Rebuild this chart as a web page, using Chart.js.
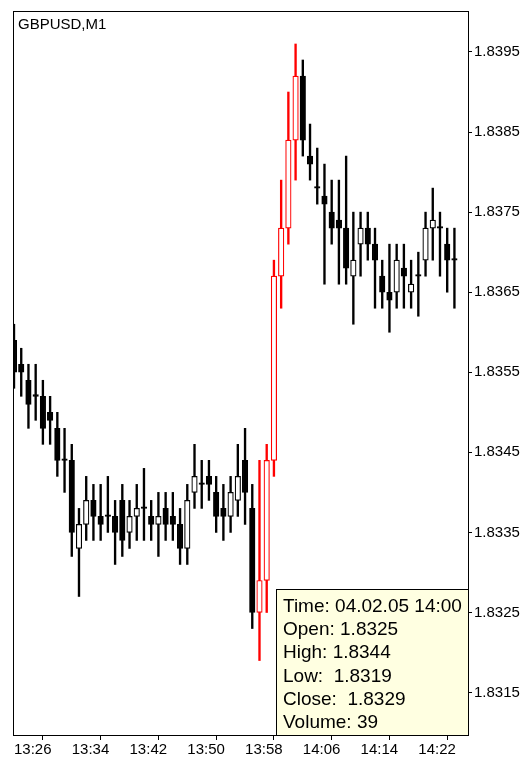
<!DOCTYPE html>
<html>
<head>
<meta charset="utf-8">
<script src="https://cdn.jsdelivr.net/npm/chart.js@4.4.0/dist/chart.umd.min.js"></script>
<style>
    html, body { margin: 0; padding: 0; background: #fff; }
    canvas { display: block; }
</style>
</head>
<body>
<canvas id="chart" width="525" height="760"></canvas>
<script>
// GBPUSD, 1-minute bars
const symbol = 'GBPUSD,M1';

const times = [
    '13:26','13:27','13:28','13:29','13:30','13:31','13:32','13:33','13:34','13:35',
    '13:36','13:37','13:38','13:39','13:40','13:41','13:42','13:43','13:44','13:45',
    '13:46','13:47','13:48','13:49','13:50','13:51','13:52','13:53','13:54','13:55',
    '13:56','13:57','13:58','13:59','14:00','14:01','14:02','14:03','14:04','14:05',
    '14:06','14:07','14:08','14:09','14:10','14:11','14:12','14:13','14:14','14:15',
    '14:16','14:17','14:18','14:19','14:20','14:21','14:22','14:23','14:24','14:25',
    '14:26','14:27'
];

const open = [
    1.8359,1.8356,1.8354,1.8352,1.8352,1.8350,1.8348,1.8344,1.8344,1.8333,
    1.8336,1.8339,1.8337,1.8337,1.8337,1.8339,1.8335,1.8337,1.8338,1.8337,
    1.8336,1.8338,1.8337,1.8336,1.8333,1.8340,1.8341,1.8342,1.8340,1.8338,
    1.8337,1.8339,1.8344,1.8338,1.8325,1.8329,1.8344,1.8367,1.8373,1.8384,
    1.8392,1.8382,1.8378,1.8377,1.8375,1.8374,1.8373,1.8367,1.8371,1.8373,
    1.8371,1.8367,1.8365,1.8365,1.8368,1.8365,1.8367,1.8369,1.8373,1.8373,
    1.8371,1.8369
];
const high = [
    1.8361,1.8358,1.8356,1.8356,1.8354,1.8352,1.8350,1.8348,1.8346,1.8338,
    1.8342,1.8341,1.8341,1.8342,1.8339,1.8341,1.8339,1.8341,1.8343,1.8339,
    1.8340,1.8340,1.8340,1.8338,1.8341,1.8346,1.8344,1.8344,1.8342,1.8341,
    1.8342,1.8346,1.8348,1.8341,1.8344,1.8346,1.8369,1.8379,1.8390,1.8396,
    1.8394,1.8386,1.8383,1.8381,1.8379,1.8379,1.8382,1.8375,1.8375,1.8375,
    1.8373,1.8369,1.8371,1.8371,1.8371,1.8369,1.8370,1.8375,1.8378,1.8375,
    1.8373,1.8373
];
const low = [
    1.8353,1.8352,1.8348,1.8349,1.8346,1.8346,1.8342,1.8340,1.8332,1.8327,
    1.8334,1.8334,1.8334,1.8335,1.8331,1.8332,1.8333,1.8334,1.8334,1.8334,
    1.8332,1.8334,1.8334,1.8331,1.8331,1.8338,1.8338,1.8339,1.8335,1.8334,
    1.8335,1.8337,1.8336,1.8323,1.8319,1.8325,1.8342,1.8363,1.8371,1.8379,
    1.8382,1.8379,1.8376,1.8366,1.8371,1.8366,1.8366,1.8361,1.8367,1.8369,
    1.8363,1.8363,1.8360,1.8363,1.8363,1.8363,1.8362,1.8367,1.8369,1.8367,
    1.8365,1.8363
];
const close = [
    1.8355,1.8355,1.8351,1.8352,1.8348,1.8349,1.8344,1.8344,1.8335,1.8336,
    1.8339,1.8337,1.8336,1.8337,1.8335,1.8334,1.8337,1.8338,1.8338,1.8336,
    1.8337,1.8336,1.8336,1.8333,1.8339,1.8342,1.8341,1.8341,1.8337,1.8337,
    1.8340,1.8342,1.8340,1.8325,1.8329,1.8344,1.8367,1.8373,1.8384,1.8392,
    1.8384,1.8381,1.8378,1.8376,1.8373,1.8373,1.8368,1.8369,1.8373,1.8371,
    1.8369,1.8365,1.8364,1.8369,1.8367,1.8366,1.8367,1.8373,1.8374,1.8373,
    1.8369,1.8369
];

const priceTicks = [1.8315, 1.8325, 1.8335, 1.8345, 1.8355, 1.8365, 1.8375, 1.8385, 1.8395];
const timeTicks = ['13:26', '13:34', '13:42', '13:50', '13:58', '14:06', '14:14', '14:22'];

// bars drawn in red
const redTimes = ['14:00', '14:01', '14:02', '14:03', '14:04', '14:05'];

// data window
const infoTime = '14:00';
const infoDate = '04.02.05';
const infoVolume = 39;

const axisFont = { family: 'Liberation Sans', size: 15 };

const wicks = times.map((t, i) => ({ x: i, y: [low[i], high[i]] }));
const bodies = times.map((t, i) => ({ x: i, y: [open[i], close[i]] }));
const lineColors = times.map(t => redTimes.includes(t) ? '#ff0000' : '#000000');
const bodyColors = times.map((t, i) => close[i] > open[i] ? '#ffffff' : lineColors[i]);

const framePlugin = {
    id: 'frame',
    afterDraw(chart) {
        const { ctx, chartArea: a } = chart;
        ctx.save();
        ctx.strokeStyle = '#000';
        ctx.lineWidth = 1;
        ctx.strokeRect(a.left + 0.5, a.top + 0.5, a.right - a.left, a.bottom - a.top);

        ctx.fillStyle = '#000';
        ctx.font = '15px "Liberation Sans"';
        ctx.textBaseline = 'alphabetic';
        ctx.fillText(symbol, a.left + 5, a.top + 18);

        // info box in the lower right corner
        const i = times.indexOf(infoTime);
        const rows = [
            'Time: ' + infoDate + ' ' + infoTime,
            'Open: ' + open[i].toFixed(4),
            'High: ' + high[i].toFixed(4),
            'Low:  ' + low[i].toFixed(4),
            'Close:  ' + close[i].toFixed(4),
            'Volume: ' + infoVolume
        ];
        const bx = Math.round(a.right) - 192, by = Math.round(a.bottom) - 146;
        ctx.fillStyle = '#ffffe1';
        ctx.fillRect(bx, by, a.right - bx, a.bottom - by);
        ctx.strokeRect(bx + 0.5, by + 0.5, a.right - bx, a.bottom - by);
        ctx.fillStyle = '#000';
        ctx.font = '19px "Liberation Sans"';
        rows.forEach((r, k) => ctx.fillText(r, bx + 7, by + 23 + k * 23.2));
        ctx.restore();
    }
};

new Chart(document.getElementById('chart'), {
    type: 'bar',
    data: {
        datasets: [
            {
                label: 'body',
                data: bodies,
                backgroundColor: bodyColors,
                borderColor: lineColors,
                borderWidth: 1.2,
                borderSkipped: false,
                barThickness: 5.5,
                minBarLength: 1.6,
                grouped: false,
                order: 0
            },
            {
                label: 'wick',
                data: wicks,
                backgroundColor: lineColors,
                borderWidth: 0,
                barThickness: 1.7,
                grouped: false,
                order: 1
            }
        ]
    },
    plugins: [framePlugin],
    options: {
        responsive: false,
        animation: false,
        devicePixelRatio: 1,
        events: [],
        layout: { padding: { left: 13, top: 10, right: 0, bottom: 0 } },
        plugins: {
            legend: { display: false },
            tooltip: { enabled: false }
        },
        scales: {
            x: {
                type: 'linear',
                position: 'bottom',
                min: -0.14,
                max: 62.88,
                offset: false,
                afterBuildTicks: s => { s.ticks = timeTicks.map(t => ({ value: times.indexOf(t) })); },
                afterFit: s => { s.height = 25; },
                grid: { drawOnChartArea: false, drawTicks: true, tickLength: 5, color: '#000' },
                border: { display: true, color: '#000' },
                ticks: {
                    align: 'start',
                    maxRotation: 0,
                    autoSkip: false,
                    padding: 1,
                    color: '#000',
                    font: axisFont,
                    callback: v => times[v]
                }
            },
            y: {
                position: 'right',
                min: 1.83097,
                max: 1.840012,
                afterBuildTicks: s => { s.ticks = priceTicks.map(v => ({ value: v })); },
                afterFit: s => { s.width = 57; },
                grid: { drawOnChartArea: false, drawTicks: true, tickLength: 4, color: '#000' },
                border: { display: true, color: '#000' },
                ticks: {
                    padding: 2,
                    color: '#000',
                    font: axisFont,
                    callback: v => v.toFixed(4)
                }
            }
        }
    }
});
</script>
</body>
</html>
